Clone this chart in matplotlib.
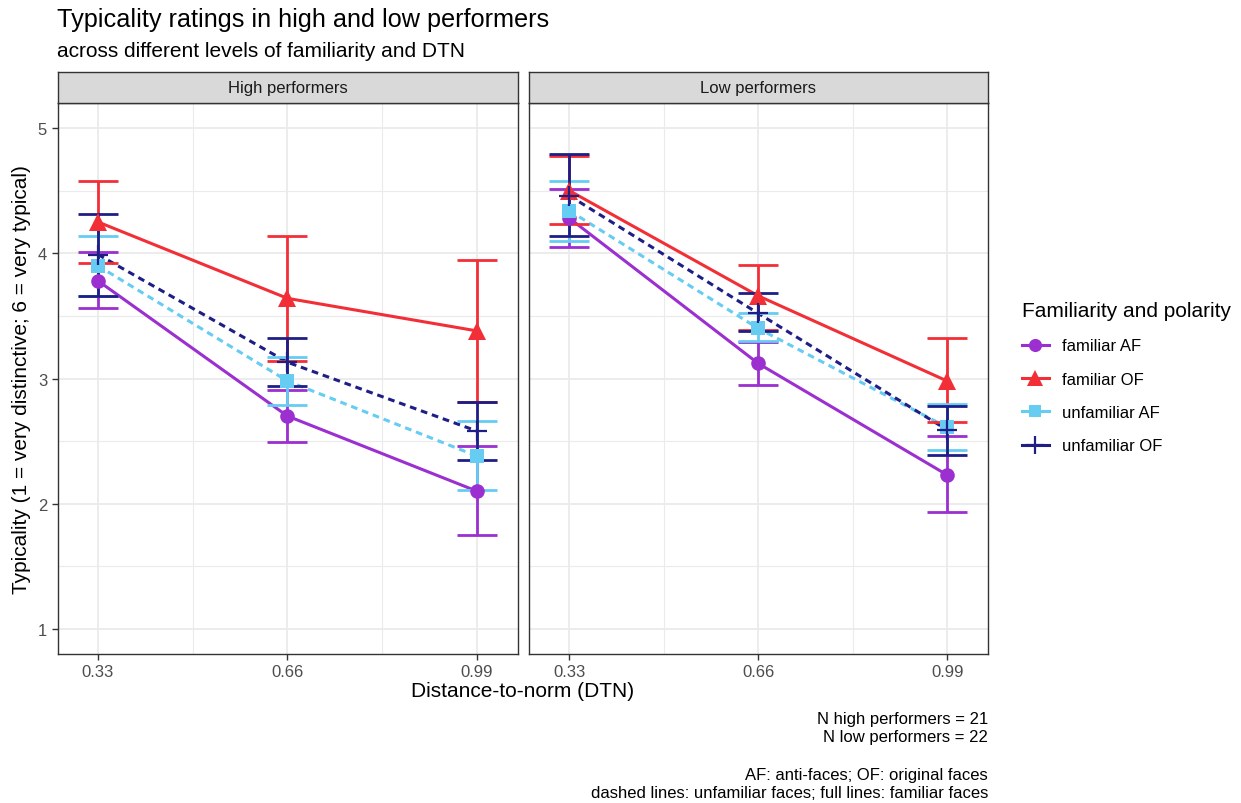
import matplotlib
matplotlib.use("Agg")
import matplotlib.pyplot as plt
from matplotlib.lines import Line2D
from matplotlib.ticker import MultipleLocator, FixedLocator

plt.rcParams['font.family'] = ['Liberation Sans', 'DejaVu Sans']

dtn = [0.33, 0.66, 0.99]
panels = ["High performers", "Low performers"]
series = ["familiar AF", "familiar OF", "unfamiliar AF", "unfamiliar OF"]

# means and error-bar bounds per panel, per series
high_mean = {
    "familiar AF":   [3.78, 2.70, 2.10],
    "familiar OF":   [4.25, 3.64, 3.38],
    "unfamiliar AF": [3.90, 2.98, 2.38],
    "unfamiliar OF": [3.99, 3.13, 2.58],
}
high_lo = {
    "familiar AF":   [3.56, 2.49, 1.75],
    "familiar OF":   [3.92, 3.14, 2.81],
    "unfamiliar AF": [3.66, 2.79, 2.11],
    "unfamiliar OF": [3.66, 2.94, 2.35],
}
high_hi = {
    "familiar AF":   [4.01, 2.91, 2.46],
    "familiar OF":   [4.58, 4.14, 3.95],
    "unfamiliar AF": [4.14, 3.17, 2.66],
    "unfamiliar OF": [4.31, 3.32, 2.81],
}
low_mean = {
    "familiar AF":   [4.28, 3.12, 2.23],
    "familiar OF":   [4.50, 3.66, 2.98],
    "unfamiliar AF": [4.34, 3.40, 2.61],
    "unfamiliar OF": [4.46, 3.52, 2.59],
}
low_lo = {
    "familiar AF":   [4.05, 2.95, 1.93],
    "familiar OF":   [4.23, 3.39, 2.65],
    "unfamiliar AF": [4.10, 3.30, 2.43],
    "unfamiliar OF": [4.14, 3.38, 2.39],
}
low_hi = {
    "familiar AF":   [4.51, 3.29, 2.54],
    "familiar OF":   [4.78, 3.91, 3.32],
    "unfamiliar AF": [4.58, 3.52, 2.80],
    "unfamiliar OF": [4.79, 3.68, 2.78],
}

colors = {"familiar AF": "#9B2FD0", "familiar OF": "#F22F36",
          "unfamiliar AF": "#66CCF2", "unfamiliar OF": "#1E1E86"}
markers = {"familiar AF": "o", "familiar OF": "^", "unfamiliar AF": "s", "unfamiliar OF": "+"}
msizes = {"familiar AF": 10.5, "familiar OF": 12.5, "unfamiliar AF": 9.5, "unfamiliar OF": 14}
styles = {"familiar AF": "-", "familiar OF": "-", "unfamiliar AF": (0, (2.2, 1.6)), "unfamiliar OF": (0, (2.2, 1.6))}

W, H = 1241, 804
fig = plt.figure(figsize=(W / 100, H / 100), dpi=100)

def px_axes(x0, y0, x1, y1):
    return fig.add_axes([x0 / W, 1 - y1 / H, (x1 - x0) / W, (y1 - y0) / H])

panel_px = [(57.5, 518), (529, 988)]
top, bottom = 104, 655
strip_top = 73
data_sets = [(high_mean, high_lo, high_hi), (low_mean, low_lo, low_hi)]

for i, (name, (x0, x1)) in enumerate(zip(panels, panel_px)):
    ax = px_axes(x0, top, x1, bottom)
    ax.set_xlim(0.2595, 1.0614)
    ax.set_ylim(0.8, 5.2)
    ax.xaxis.set_major_locator(FixedLocator(dtn))
    ax.xaxis.set_minor_locator(FixedLocator([0.495, 0.825]))
    ax.yaxis.set_major_locator(MultipleLocator(1))
    ax.yaxis.set_minor_locator(FixedLocator([1.5, 2.5, 3.5, 4.5]))
    ax.grid(True, which='major', color='#EBEBEB', lw=1.3, zorder=0)
    ax.grid(True, which='minor', color='#EBEBEB', lw=0.8, zorder=0)
    ax.set_axisbelow(True)
    for s in ax.spines.values():
        s.set_color('#333333')
        s.set_linewidth(1.0)
    ax.tick_params(which='major', length=4, color='#333333', labelsize=12, labelcolor='#4D4D4D', width=1)
    ax.tick_params(which='minor', length=0)
    ax.set_xticklabels(["0.33", "0.66", "0.99"])
    if i == 1:
        ax.tick_params(axis='y', which='both', left=False, labelleft=False)

    means, los, his = data_sets[i]
    for s in series:
        c = colors[s]
        ax.plot(dtn, means[s], color=c, lw=2.2, ls=styles[s], zorder=2)
    for s in series:
        c = colors[s]
        m = means[s]
        yerr = [[m[k] - los[s][k] for k in range(3)], [his[s][k] - m[k] for k in range(3)]]
        ax.errorbar(dtn, m, yerr=yerr, fmt='none', ecolor=c, elinewidth=2.0,
                    capsize=14.4, capthick=2.0, zorder=3)
    for s in series:
        c = colors[s]
        mew = 1.6 if markers[s] == '+' else 0
        ax.plot(dtn, means[s], ls='none', marker=markers[s], ms=msizes[s],
                color=c, mec=c, mew=mew, zorder=4)

    # strip
    sax = px_axes(x0, strip_top, x1, top)
    sax.set_xticks([]); sax.set_yticks([])
    sax.set_facecolor('#D9D9D9')
    for sp in sax.spines.values():
        sp.set_color('#333333'); sp.set_linewidth(1.0)
    sax.text(0.5, 0.5, name, ha='center', va='center', fontsize=12, color='#1A1A1A',
             transform=sax.transAxes)

# titles
fig.text(57 / W, 1 - 27 / H, "Typicality ratings in high and low performers", fontsize=18.2,
         ha='left', va='baseline', color='black')
fig.text(57 / W, 1 - 57 / H, "across different levels of familiarity and DTN", fontsize=15,
         ha='left', va='baseline', color='black')

# axis titles
fig.text(523 / W, 1 - 692 / H, "Distance-to-norm (DTN)", fontsize=15, ha='center', va='center')
fig.text(22 / W, 1 - 380 / H, "Typicality (1 = very distinctive; 6 = very typical)", fontsize=15,
         ha='center', va='center', rotation=90)

# legend
handles = [Line2D([0], [0], color=colors[s], lw=2.2, marker=markers[s], ms=msizes[s] * 0.9,
                  mew=(1.6 if markers[s] == '+' else 0), mec=colors[s]) for s in series]
fig.legend(handles, series, loc='upper left', bbox_to_anchor=(1007 / W, 1 - 287 / H),
           frameon=False, fontsize=12, title="Familiarity and polarity", title_fontsize=15,
           handlelength=1.6, handletextpad=0.8, labelspacing=1.1, alignment='left')

# caption
cap = [("N high performers = 21", 720), ("N low performers = 22", 738),
       ("AF: anti-faces; OF: original faces", 776),
       ("dashed lines: unfamiliar faces; full lines: familiar faces", 794)]
for t, y in cap:
    fig.text(988 / W, 1 - y / H, t, fontsize=12, ha='right', va='center')

fig.savefig("out.png", dpi=100)
